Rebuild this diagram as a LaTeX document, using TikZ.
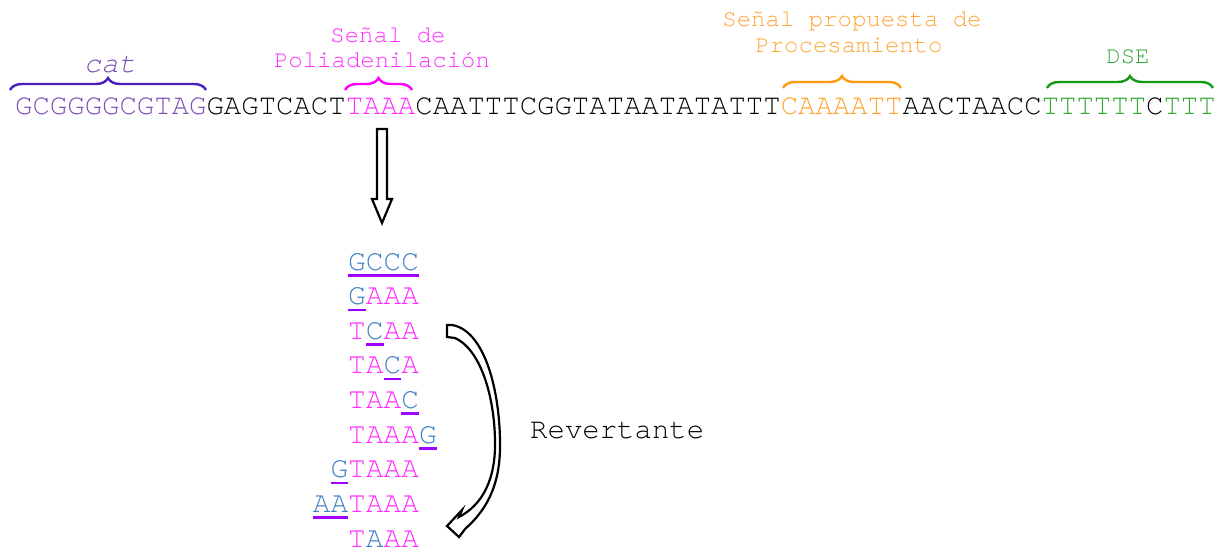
\documentclass[tikz,border=0pt]{standalone}
\usepackage{fontspec}
\setmainfont{TeX Gyre Cursor}
\usetikzlibrary{decorations.pathreplacing}
\definecolor{catcol}{HTML}{7B4FB6}
\definecolor{catbrace}{HTML}{4B1FBF}
\definecolor{pinkc}{HTML}{FF2BFF}
\definecolor{pinkbrace}{HTML}{FF00FF}
\definecolor{orangec}{HTML}{FFA433}
\definecolor{orangebrace}{HTML}{FF9A10}
\definecolor{greenc}{HTML}{35A835}
\definecolor{greenbrace}{HTML}{149914}
\definecolor{bluec}{HTML}{3F7FC4}
\definecolor{ulc}{HTML}{9F00FF}
\newcommand\pk[1]{{\color{pinkc}#1}}
\newcommand\bl[1]{{\color{bluec}#1}}
% underlined blue letters: #1 = number of characters
\newcommand\ub[2]{\rlap{\color{ulc}\rule[-6.5pt]{#1\dimexpr 0.6em\relax}{2.6pt}}{\color{bluec}#2}}
\tikzset{
  seqtxt/.style={inner sep=0pt, anchor=base west, font=\fontsize{29}{29}\selectfont},
  rowtxt/.style={inner sep=0pt, anchor=base west, font=\fontsize{29.5}{29.5}\selectfont},
  lbl/.style={inner sep=0pt, anchor=base, font=\fontsize{24}{24}\selectfont},
  bracestyle/.style={decorate, decoration={brace, amplitude=12pt}, line width=2.4pt},
  outlinearrow/.style={draw=black, fill=white, line width=2.2pt, line join=miter},
}
\begin{document}
\begin{tikzpicture}[x=1pt, y=-1pt]
\useasboundingbox (0,0) rectangle (1229,554);

% main sequence
\node[seqtxt] (seq) at (15,114) {{\color{catcol}GCGGGGCGTAG}GAGTCACT{\color{pinkc}TAAA}CAATTTCGGTATAATATATTT{\color{orangec}CAAAATT}AACTAACC{\color{greenc}TTTTTT}C{\color{greenc}TTT}};

% braces
\draw[bracestyle, draw=catbrace] (10,90) -- (206,90);
\draw[bracestyle, draw=pinkbrace] (345,90) -- (412,90);
\draw[bracestyle, draw=orangebrace] (783,88) -- (901,88);
\draw[bracestyle, draw=greenbrace] (1047,88) -- (1213,88);

% labels
\node[lbl, text=catcol, font=\fontsize{29}{29}\selectfont\itshape] (catlbl) at (110,72) {cat};
\node[lbl, text=pinkc] (poli1) at (388,42) {Señal de};
\node[lbl, text=pinkc] (poli2) at (382,67) {Poliadenilación};
\node[lbl, text=orangec] (proc1) at (852,27) {Señal propuesta de};
\node[lbl, text=orangec] (proc2) at (849,52) {Procesamiento};
\node[lbl, text=greenc] (dse) at (1128,63) {DSE};

% down arrow
\draw[outlinearrow] (377,129) -- (387,129) -- (387,199) -- (392,199) -- (382,223) -- (372,199) -- (377,199) -- cycle;

% rows
\node[rowtxt] (r1) at (348,270) {\ub{4}{GCCC}};
\node[rowtxt] (r2) at (348,304.6) {\ub{1}{G}\pk{AAA}};
\node[rowtxt] (r3) at (348,339.3) {\pk{T}\ub{1}{C}\pk{AA}};
\node[rowtxt] (r4) at (348,373.9) {\pk{TA}\ub{1}{C}\pk{A}};
\node[rowtxt] (r5) at (348,408.5) {\pk{TAA}\ub{1}{C}};
\node[rowtxt] (r6) at (348,443.1) {\pk{TAAA}\ub{1}{G}};
\node[rowtxt] (r7) at (330.3,477.8) {\ub{1}{G}\pk{TAAA}};
\node[rowtxt] (r8) at (312.6,512.4) {\ub{2}{AA}\pk{TAAA}};
\node[rowtxt] (r9) at (348,547) {\pk{T}\bl{A}\pk{AA}};

\node[seqtxt] (rev) at (530,438) {Revertante};

% curved arrow
\draw[outlinearrow] (447,325) -- (447,337) -- (455,338)
  .. controls (478,348) and (494,390) .. (495,440)
  .. controls (496,480) and (482,505) .. (459,517)
  -- (462,510) -- (447,526) -- (459,537) -- (465,529)
  .. controls (490,507) and (501,480) .. (500,440)
  .. controls (499,385) and (483,330) .. (452,325) -- cycle;
\end{tikzpicture}
\end{document}
